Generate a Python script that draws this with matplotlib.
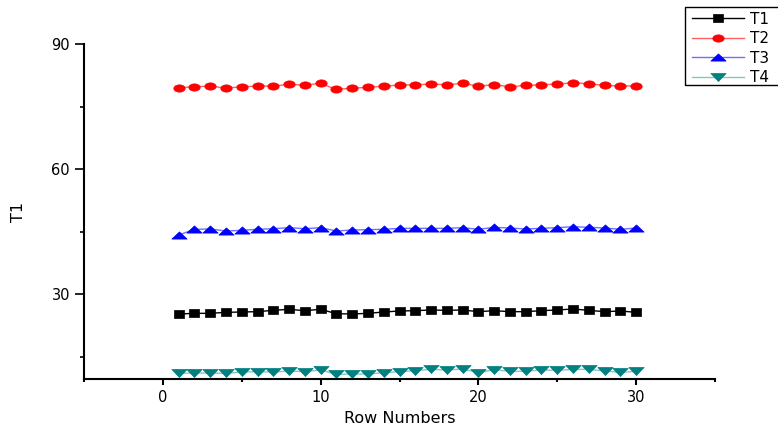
import matplotlib
matplotlib.use("Agg")
import numpy as np
import matplotlib.pyplot as plt
from matplotlib.ticker import MultipleLocator
from matplotlib.path import Path
from matplotlib.patches import Rectangle

plt.rcParams['font.family'] = ['DejaVu Sans']

rows = list(range(1, 31))
t1 = [25.2, 25.36, 25.36, 25.6, 25.68, 25.76, 26.08, 26.32, 26.0, 26.32,
      25.28, 25.2, 25.36, 25.68, 25.92, 26.0, 26.16, 26.08, 26.16, 25.76,
      26.0, 25.76, 25.76, 26.0, 26.16, 26.4, 26.08, 25.76, 25.92, 25.6]
t2 = [79.5, 79.74, 79.9, 79.42, 79.74, 79.9, 79.9, 80.3, 80.14, 80.54,
      79.1, 79.42, 79.58, 79.9, 80.14, 80.22, 80.38, 80.22, 80.54, 79.9,
      80.22, 79.74, 80.06, 80.22, 80.38, 80.7, 80.46, 80.06, 79.9, 79.98]
t3 = [44.16, 45.52, 45.6, 45.12, 45.28, 45.52, 45.68, 45.92, 45.68, 45.92,
      45.12, 45.36, 45.44, 45.52, 45.76, 45.76, 45.76, 45.76, 45.92, 45.52,
      46.0, 45.84, 45.6, 45.76, 45.92, 46.16, 46.0, 45.84, 45.52, 45.84]
t4 = [10.96, 11.04, 11.04, 10.96, 11.28, 11.36, 11.28, 11.52, 11.36, 11.76,
      10.72, 10.8, 10.8, 11.12, 11.36, 11.6, 11.92, 11.76, 12.0, 11.12,
      11.84, 11.44, 11.44, 11.76, 11.68, 11.92, 11.92, 11.52, 11.2, 11.44]

# horizontally stretched marker shapes (as in the reference)
th = np.linspace(0, 2 * np.pi, 40)
ellipse = Path(np.column_stack([np.cos(th), 0.64 * np.sin(th)]), closed=True)
rect = Path([(-1, -0.7), (1, -0.7), (1, 0.7), (-1, 0.7), (-1, -0.7)], closed=True)
tri_up = Path([(-1, -0.47), (1, -0.47), (0, 0.47), (-1, -0.47)], closed=True)
tri_dn = Path([(-1, 0.53), (1, 0.53), (0, -0.53), (-1, 0.53)], closed=True)

fig = plt.figure(figsize=(7.78, 4.30), dpi=100)
ax = fig.add_axes([84/778, 51/430, (715-84)/778, (379-44)/430])

series = [
    ("T1", t1, rect, "black", "#000000", 7.4),
    ("T2", t2, ellipse, "red", "#ff6060", 8.2),
    ("T3", t3, tri_up, "blue", "#7070ff", 11),
    ("T4", t4, tri_dn, "#008080", "#80c8c0", 11),
]
for name, vals, mk, mc, lc, ms in series:
    ax.plot(rows, vals, color=lc, lw=1, marker=mk, markersize=ms,
            markerfacecolor=mc, markeredgecolor=mc, markeredgewidth=0.5,
            label=name)

ax.set_xlim(-5, 35)
ax.set_ylim(9.6, 90)
ax.xaxis.set_major_locator(MultipleLocator(10))
ax.xaxis.set_minor_locator(MultipleLocator(5))
ax.yaxis.set_major_locator(MultipleLocator(30))
ax.yaxis.set_minor_locator(MultipleLocator(15))
ax.spines['top'].set_visible(False)
ax.spines['right'].set_visible(False)
ax.spines['left'].set_linewidth(1.5)
ax.spines['bottom'].set_linewidth(1.5)
ax.tick_params(axis='y', which='major', direction='out', length=6.5, width=1.2, labelsize=10.5)
ax.tick_params(axis='y', which='minor', direction='out', length=3, width=1.2)
ax.tick_params(axis='x', which='major', direction='out', length=4.5, width=1.5, labelsize=10.5)
ax.tick_params(axis='x', which='minor', direction='out', length=2.5, width=1.5)
ax.set_xlabel("Row Numbers", fontsize=11.5, labelpad=4)
ax.set_ylabel("T1", fontsize=11.5, labelpad=18)

leg = fig.legend(loc='upper left', bbox_to_anchor=(687/778, 1 - 7/430), fontsize=11,
                 frameon=False, handlelength=3.4, handletextpad=0.45,
                 borderpad=0.3, labelspacing=0.3, borderaxespad=0.0)

# legend frame that runs off the right edge, as in the reference
fig.patches.append(Rectangle((685/778, 1 - 85/430), 110/778, 78/430,
                             transform=fig.transFigure, fill=False,
                             edgecolor='black', linewidth=1.0, clip_on=False))

fig.savefig("out.png", dpi=100)
